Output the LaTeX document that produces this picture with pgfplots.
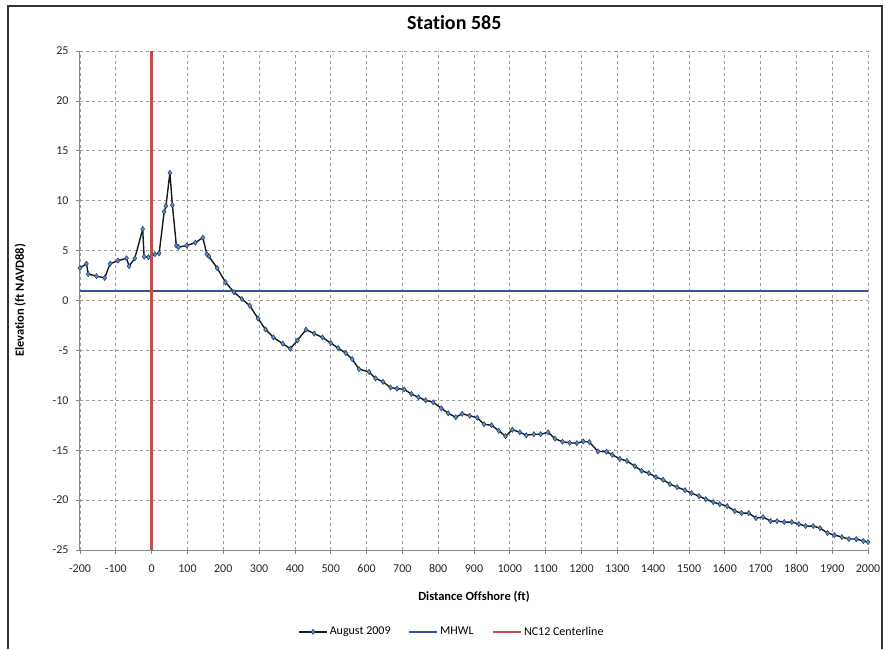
\documentclass[border=0pt]{standalone}
\usepackage{fontspec}
\setmainfont{Carlito}[Ligatures={NoCommon}]
\usepackage{pgfplots}
\pgfplotsset{compat=1.18}
\usepackage{pgfplotstable}
\definecolor{mkfill}{HTML}{5B8FD0}
\definecolor{mkdraw}{HTML}{1F3A68}
\definecolor{mhwl}{HTML}{2F5597}
\definecolor{nc12}{HTML}{C0504D}
\definecolor{gridc}{HTML}{9A9A9A}
\definecolor{axc}{HTML}{868686}
\pgfplotstableread{
x y
-200 3.26
-182 3.68
-177 2.65
-154 2.44
-131 2.27
-116 3.68
-94 3.99
-70 4.23
-63 3.44
-47 4.23
-25 7.15
-21 4.4
-9 4.33
9 4.64
21 4.74
35 8.9
40 9.48
51 12.8
58 9.55
69 5.5
75 5.35
98 5.5
122 5.8
143 6.3
154 4.65
160 4.42
183 3.25
206 1.83
230 0.83
252 0.15
274 -0.52
297 -1.8
318 -2.9
340 -3.7
366 -4.33
387 -4.83
407 -4.0
431 -2.92
454 -3.32
477 -3.7
500 -4.26
521 -4.77
542 -5.27
560 -5.87
579 -6.88
607 -7.15
625 -7.8
646 -8.15
667 -8.72
685 -8.83
705 -8.9
725 -9.36
745 -9.7
765 -10.0
786 -10.2
809 -10.8
828 -11.3
849 -11.7
867 -11.35
888 -11.55
909 -11.75
928 -12.4
949 -12.5
969 -13.05
988 -13.6
1007 -12.95
1028 -13.2
1046 -13.5
1067 -13.4
1086 -13.4
1107 -13.2
1126 -13.85
1147 -14.15
1167 -14.26
1187 -14.3
1205 -14.12
1222 -14.18
1246 -15.12
1270 -15.15
1286 -15.46
1307 -15.87
1327 -16.08
1349 -16.6
1368 -17.07
1388 -17.3
1408 -17.7
1428 -17.96
1447 -18.4
1467 -18.7
1489 -19.0
1507 -19.3
1528 -19.6
1547 -19.9
1568 -20.2
1586 -20.4
1607 -20.6
1628 -21.1
1647 -21.3
1667 -21.3
1687 -21.8
1707 -21.7
1728 -22.1
1746 -22.1
1766 -22.2
1787 -22.2
1807 -22.4
1826 -22.6
1847 -22.6
1866 -22.8
1887 -23.3
1906 -23.5
1927 -23.7
1947 -23.9
1967 -23.9
1987 -24.1
2000 -24.2
}\profiletab
\pgfplotstableread{
x y
-200 0.95
2000 0.95
}\mhwltab
\pgfplotstableread{
x y
0 -25
0 25
}\ctrtab
\begin{document}
\begin{tikzpicture}
\useasboundingbox (-80pt,-99pt) rectangle (805pt,550pt);
\begin{axis}[
  scale only axis,
  width=788pt, height=499pt,
  xmin=-200, xmax=2000, ymin=-25, ymax=25,
  xtick={-200,-100,...,2000},
  ytick={-25,-20,...,25},
  /pgf/number format/1000 sep={},
  /pgf/number format/assume math mode=true,
  axis x line*=bottom, axis y line*=left,
  axis line style={axc, line width=1pt},
  tick style={axc, line width=0.8pt},
  major tick length=4pt,
  tick align=outside,
  grid=major,
  major grid style={gridc, dash pattern=on 3pt off 3pt, line width=0.8pt},
  ticklabel style={font=\fontsize{12}{14}\selectfont, text=black!85},
  xticklabel style={yshift=-7pt},
  yticklabel style={xshift=-4pt},
  xlabel={\textbf{Distance Offshore (ft)}},
  ylabel={\textbf{Elevation (ft NAVD88)}},
  label style={font=\fontsize{12.5}{14}\selectfont},
  xlabel style={at={(0.5,-0.094)}, anchor=center},
  ylabel style={at={(-0.076,0.5)}, anchor=center},
  title={\textbf{Station 585}},
  title style={font=\fontsize{20}{24}\selectfont, at={(0.475,1.044)}, anchor=center},
  legend columns=3,
  legend style={at={(0.472,-0.164)}, anchor=center, draw=none, fill=none,
    font=\fontsize{12}{14}\selectfont, /tikz/every even column/.append style={column sep=16pt}},
  legend image code/.code={\draw[#1, mark repeat=2, mark phase=2] plot coordinates {(0pt,0pt) (14pt,0pt) (28pt,0pt)};},
  clip=false,
]
\addplot[black!90, line width=1.4pt, mark=diamond*, mark size=2.6pt,
  mark options={fill=mkfill, draw=mkdraw, line width=0.5pt}]
  table[x=x,y=y] {\profiletab};
\addlegendentry{August 2009}
\addplot[mhwl, line width=1.6pt] table[x=x,y=y] {\mhwltab};
\addlegendentry{MHWL}
\addplot[nc12, line width=2.4pt] table[x=x,y=y] {\ctrtab};
\addlegendentry{NC12 Centerline}
\end{axis}
\draw[black!80, line width=1.3pt] (-72pt,-99pt) -- (-72pt,544pt) -- (802pt,544pt) -- (802pt,-99pt);
\end{tikzpicture}
\end{document}
